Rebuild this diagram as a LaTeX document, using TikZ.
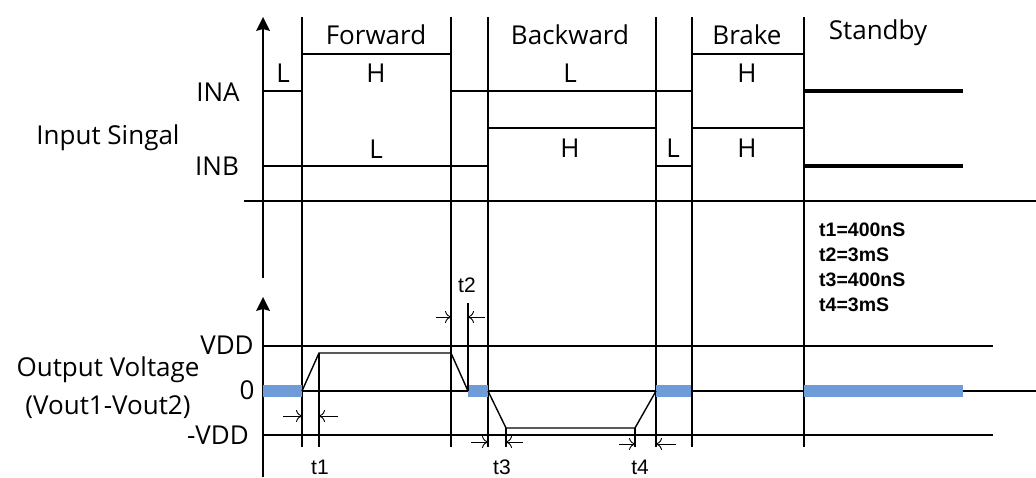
\documentclass[tikz,border=0pt]{standalone}
\usepackage{fontspec}
\setmainfont{Open Sans}
\newfontfamily\arialfont{Liberation Sans}
\usepackage{tikz}
\usetikzlibrary{arrows,arrows.meta,calc}
\definecolor{zeroblue}{RGB}{110,156,216}

\begin{document}
\begin{tikzpicture}[x=1pt,y=-1pt,
    lbl/.style={inner sep=0pt,font=\fontsize{26}{30}\selectfont},
    tlbl/.style={inner sep=0pt,font=\arialfont\fontsize{21}{24}\selectfont},
    gridline/.style={line width=1.1pt},
    sig/.style={line width=1.4pt},
    standby/.style={line width=3.6pt},
    zerobar/.style={line width=12pt,zeroblue},
    dimarrow/.style={line width=0.9pt,-{To[length=6pt,width=12pt]}}]
    \useasboundingbox (0,0) rectangle (1036,477);

    % time marks of the phases
    \pgfmathsetmacro{\xA}{302}
    \pgfmathsetmacro{\xB}{451}
    \pgfmathsetmacro{\xC}{488}
    \pgfmathsetmacro{\xD}{656}
    \pgfmathsetmacro{\xE}{692}
    \pgfmathsetmacro{\xF}{804}

    % axes
    \coordinate (topaxis) at (263,17);
    \coordinate (botaxis) at (263,297);
    \draw[gridline] (263,278) -- ($(topaxis)+(0,8)$);
    \fill (topaxis) -- ++(-7,14) -- ++(7,-2) -- ++(7,2) -- cycle;
    \draw[gridline] (263,477) -- ($(botaxis)+(0,8)$);
    \fill (botaxis) -- ++(-7,14) -- ++(7,-2) -- ++(7,2) -- cycle;
    \draw[gridline] (244,201) -- (1036,201);
    \draw[gridline] (263,346) -- (993,346);
    \draw[gridline] (263,391) -- (1036,391);
    \draw[gridline] (263,435) -- (993,435);
    \foreach \x in {\xA,\xB,\xC,\xD,\xE,\xF}
      \draw[gridline] (\x,17) -- (\x,447);

    % input signals
    \draw[sig] (263,91) -- (\xA,91) -- (\xA,54) -- (\xB,54) -- (\xB,91)
      -- (\xE,91) -- (\xE,54) -- (\xF,54) -- (\xF,91);
    \draw[standby] (\xF,91) -- (963,91);
    \draw[sig] (263,166) -- (\xC,166) -- (\xC,128) -- (\xD,128) -- (\xD,166)
      -- (\xE,166) -- (\xE,128) -- (\xF,128) -- (\xF,166);
    \draw[standby] (\xF,166) -- (963,166);

    % output voltage
    \draw[zerobar] (263,391) -- (\xA,391);
    \draw[zerobar] (468,391) -- (\xC,391);
    \draw[zerobar] (\xD,391) -- (691,391);
    \draw[zerobar] (\xF,391) -- (963,391);
    \coordinate (up) at (319,353);
    \coordinate (upend) at (\xB,353);
    \coordinate (offa) at (468,391);
    \coordinate (down) at (506,428);
    \coordinate (downend) at (635,428);
    \draw[sig] (\xA,391) -- (up) -- (upend) -- (offa);
    \draw[sig] (\xC,391) -- (down) -- (downend) -- (\xD,391);
    \draw[gridline] (up) -- ++(0,94);
    \draw[gridline] (offa) -- ++(0,-88);
    \draw[gridline] (down) -- ++(0,19);
    \draw[gridline] (downend) -- ++(0,19);

    % delay arrows
    \draw[dimarrow] (283,416) -- (\xA,416);
    \draw[dimarrow] (338,416) -- (319,416);
    \draw[dimarrow] (436,317) -- (\xB,317);
    \draw[dimarrow] (485,317) -- (468,317);
    \draw[dimarrow] (471,442) -- (\xC,442);
    \draw[dimarrow] (523,442) -- (506,442);
    \draw[dimarrow] (619,444) -- (635,444);
    \draw[dimarrow] (676,444) -- (\xD,444);

    % phase names and levels
    \node[lbl] (fwd) at (376,35) {Forward};
    \node[lbl] (bwd) at (570,35) {Backward};
    \node[lbl] (brk) at (747,35) {Brake};
    \node[lbl] (stb) at (878,33) {Standby};
    \node[lbl] (inaL1) at (283,73) {L};
    \node[lbl] (inaH1) at (376,73) {H};
    \node[lbl] (inaL2) at (570,73) {L};
    \node[lbl] (inaH2) at (747,73) {H};
    \node[lbl] (inbL1) at (376,149) {L};
    \node[lbl] (inbH1) at (570,148) {H};
    \node[lbl] (inbL2) at (673,148) {L};
    \node[lbl] (inbH2) at (747,148) {H};

    % left labels
    \node[lbl] (ina) at (218,92) {INA};
    \node[lbl] (inb) at (217,166) {INB};
    \node[lbl] (insig) at (108,138) {Input Singal};
    \node[lbl] (vdd) at (227,345) {VDD};
    \node[lbl] (zero) at (247,390) {0};
    \node[lbl] (mvdd) at (218,435) {-VDD};
    \node[lbl] (outv) at (108,370) {Output Voltage};
    \node[lbl] (vout) at (108,407) {(Vout1-Vout2)};

    % delay names
    \node[tlbl] (t1) at (320,467) {t1};
    \node[tlbl] (t2) at (467,285) {t2};
    \node[tlbl] (t3) at (502,467) {t3};
    \node[tlbl] (t4) at (640,467) {t4};
    \node[tlbl,font=\arialfont\bfseries\fontsize{19.5}{25}\selectfont,align=left,anchor=north west]
      (tvals) at (819,223) {t1=400nS\\t2=3mS\\t3=400nS\\t4=3mS};
\end{tikzpicture}
\end{document}
